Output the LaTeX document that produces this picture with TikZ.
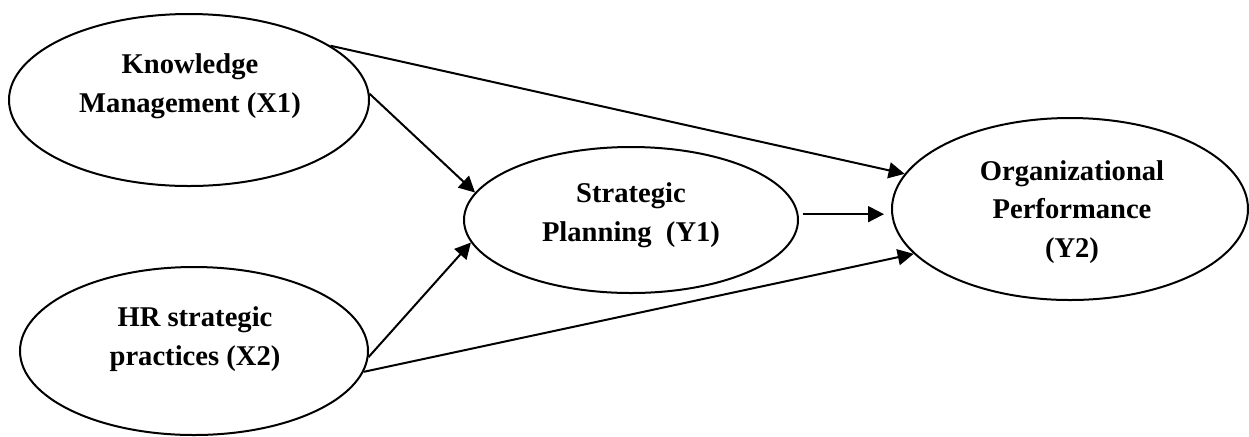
\documentclass[tikz,border=0pt]{standalone}
\usepackage{fontspec}
\setmainfont{Liberation Serif}
\usetikzlibrary{shapes.geometric,arrows.meta}
\begin{document}
\begin{tikzpicture}[x=0.5pt,y=-0.5pt,
    var/.style={draw,ellipse,line width=1pt,inner sep=0pt},
    txt/.style={align=center,font=\fontsize{14.3}{19.3}\selectfont\bfseries},
    link/.style={line width=1pt,-{Triangle[length=8pt,width=8pt]}}]
  \useasboundingbox[fill=white] (0,0) rectangle (1249,436);
  % constructs
  \node[var,minimum width=180pt,minimum height=86pt] (x1) at (189,100) {};
  \node[var,minimum width=174pt,minimum height=84pt] (x2) at (194,351) {};
  \node[var,minimum width=167pt,minimum height=73pt] (y1) at (631,220) {};
  \node[var,minimum width=178pt,minimum height=91pt] (y2) at (1070,209) {};
  \node[txt] (x1t) at (190,86) {Knowledge\\Management (X1)};
  \node[txt] (x2t) at (195,339) {HR strategic\\practices (X2)};
  \node[txt] (y1t) at (631,215) {Strategic\\Planning\ \ (Y1)};
  \node[txt] (y2t) at (1072,212) {Organizational\\Performance\\(Y2)};
  % paths
  \begin{scope}[link]
    \draw (x1.21) to (y2.168);
    \draw (x1.2) to (y1.170);
    \draw (x2.-2) to (y1.188);
    \draw (x2.-7) to (y2.196);
    \draw[shorten <=2.5pt,shorten >=3.5pt] (y1.2) to (y1.2 -| y2.west);
  \end{scope}
\end{tikzpicture}
\end{document}
